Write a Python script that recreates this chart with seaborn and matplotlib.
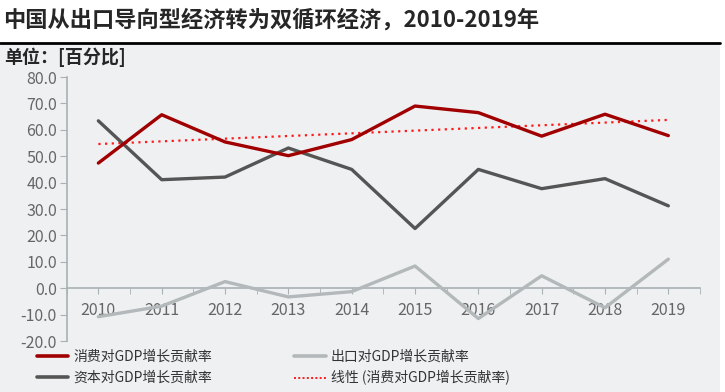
import numpy as np
import pandas as pd
import matplotlib
matplotlib.use('Agg')
import matplotlib.pyplot as plt
from matplotlib.lines import Line2D
from matplotlib.patches import Rectangle
from matplotlib.ticker import FixedLocator
import seaborn as sns

years = ['2010', '2011', '2012', '2013', '2014', '2015', '2016', '2017', '2018', '2019']
consumption = [47.4, 65.7, 55.4, 50.2, 56.3, 69.0, 66.5, 57.6, 65.9, 57.8]
capital = [63.4, 41.1, 42.1, 53.1, 45.0, 22.6, 45.0, 37.7, 41.5, 31.2]
exports = [-10.8, -6.8, 2.5, -3.3, -1.3, 8.4, -11.5, 4.7, -7.4, 11.0]
yticks = [-20, -10, 0, 10, 20, 30, 40, 50, 60, 70, 80]

label_cons = '消费对GDP增长贡献率'
label_cap = '资本对GDP增长贡献率'
label_exp = '出口对GDP增长贡献率'
label_trend = '线性 (消费对GDP增长贡献率)'

bg = '#eff0f2'
red = '#a00000'
dark = '#555555'
light = '#b3b8bb'
tick_col = '#666666'

sns.set_style('white')
plt.rcParams['font.family'] = ['Noto Sans CJK SC', 'DejaVu Sans']

idx = np.arange(len(years))
df = pd.DataFrame({'idx': idx, 'cons': consumption, 'cap': capital, 'exp': exports})
# linear trend of consumption
coef = np.polyfit(idx, consumption, 1)
df['trend'] = np.polyval(coef, idx)

fig = plt.figure(figsize=(7.25, 3.92), dpi=100)
fig.patches.append(Rectangle((0, 0), 720 / 725, (392 - 44) / 392, transform=fig.transFigure,
                             facecolor=bg, edgecolor='none', zorder=-10))
fig.add_artist(Line2D([0, 720 / 725], [(392 - 43) / 392] * 2, color='black', lw=2,
                      transform=fig.transFigure))
fig.text(3 / 725, 1 - 20 / 392, '中国从出口导向型经济转为双循环经济，2010-2019年',
         fontsize=16, fontweight='bold', va='center', ha='left')
fig.text(4 / 725, 1 - 57 / 392, '单位：[百分比]', fontsize=13, fontweight='bold',
         va='center', ha='left')

ax = fig.add_axes([66.7 / 725, (392 - 341) / 392, (700 - 66.7) / 725, (341 - 77) / 392])
ax.set_facecolor(bg)

sns.lineplot(data=df, x='idx', y='trend', ax=ax, color='#ff1a1a', lw=1.6,
             linestyle=(0, (1, 2)), zorder=2)
sns.lineplot(data=df, x='idx', y='exp', ax=ax, color=light, lw=2.4, zorder=3)
sns.lineplot(data=df, x='idx', y='cap', ax=ax, color=dark, lw=2.4, zorder=4)
sns.lineplot(data=df, x='idx', y='cons', ax=ax, color=red, lw=2.4, zorder=5)

ax.set_xlim(-0.5, len(years) - 0.5)
ax.set_ylim(yticks[0], yticks[-1])
ax.set_yticks(yticks)
ax.set_yticklabels([f'{v:.1f}' for v in yticks])
ax.set_xticks(idx)
ax.set_xticklabels(years)
ax.xaxis.set_minor_locator(FixedLocator(np.arange(-0.5, len(years), 1.0)))
ax.set_xlabel('')
ax.set_ylabel('')

for s in ['top', 'right']:
    ax.spines[s].set_visible(False)
ax.spines['bottom'].set_position(('data', 0))
ax.spines['bottom'].set_color('#a9b1b5')
ax.spines['left'].set_color('#a9b1b5')
ax.spines['bottom'].set_linewidth(1.2)
ax.spines['left'].set_linewidth(1.2)

ax.tick_params(axis='x', which='both', direction='out', length=4, color='#a9b1b5',
               labelsize=11.5, labelcolor=tick_col, pad=6, bottom=True)
ax.tick_params(axis='y', direction='out', length=5, color='#a9b1b5',
               labelsize=11.5, labelcolor=tick_col, pad=2, left=True)

handles = [Line2D([], [], color=red, lw=2.6), Line2D([], [], color=dark, lw=2.6),
           Line2D([], [], color=light, lw=2.6), Line2D([], [], color='#ff1a1a', lw=1.4,
                                                      linestyle=(0, (1, 1.2)))]
labels = [label_cons, label_cap, label_exp, label_trend]
fig.legend(handles, labels, ncol=2, loc='lower left', bbox_to_anchor=(24 / 725, -6 / 392),
           frameon=False, fontsize=10, handlelength=2.3, handletextpad=0.35,
           columnspacing=5.9, labelspacing=0.5, labelcolor='#333333')

fig.savefig('out.png', dpi=100, facecolor='white')
